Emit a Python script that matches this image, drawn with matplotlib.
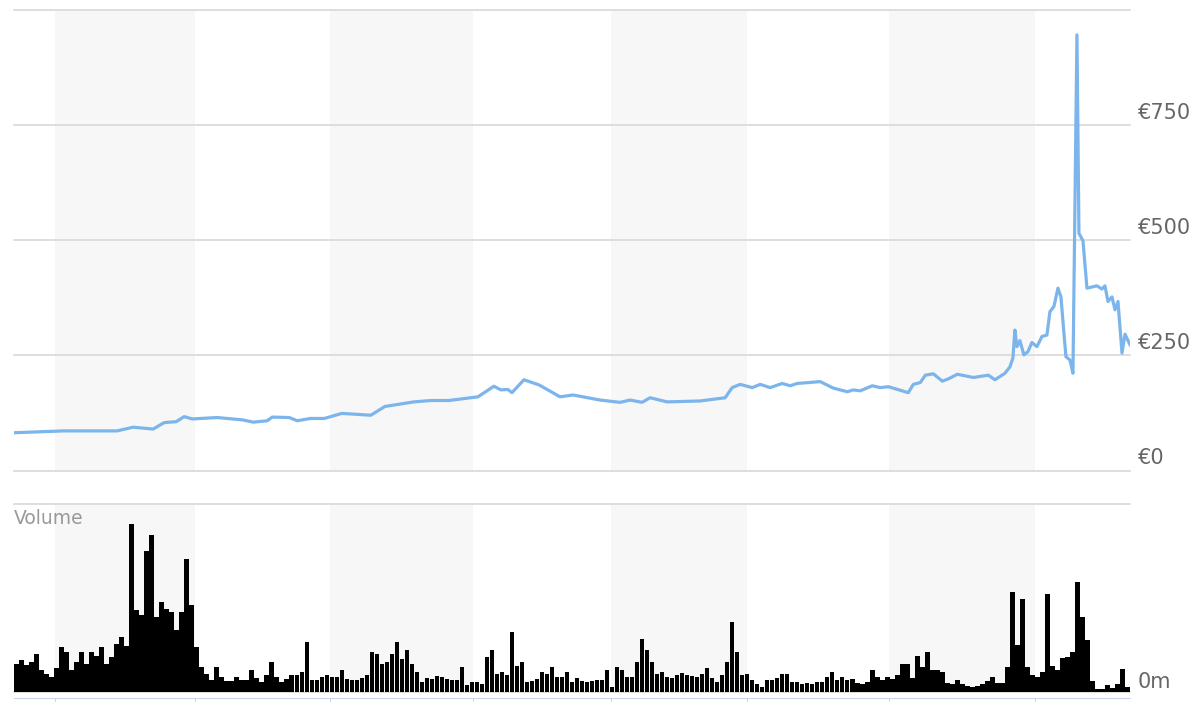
import numpy as np
import matplotlib.pyplot as plt
from matplotlib.transforms import offset_copy

# volume per bar (bar index = time), arbitrary units
volume = [28, 32, 27, 30, 38, 22, 18, 15, 24, 45, 40, 22, 30, 40, 28, 40, 36, 45, 28, 35,
          48, 55, 46, 168, 82, 77, 141, 157, 75, 90, 83, 80, 62, 80, 133, 87, 45, 25, 18, 12,
          25, 15, 11, 11, 15, 12, 12, 22, 14, 10, 17, 30, 15, 10, 13, 17, 17, 20, 50, 12,
          12, 15, 17, 15, 15, 22, 13, 12, 12, 14, 17, 40, 38, 28, 30, 38, 50, 33, 42, 28,
          20, 10, 14, 13, 16, 15, 13, 12, 12, 25, 7, 10, 10, 8, 35, 42, 18, 20, 17, 60,
          26, 30, 10, 11, 13, 20, 18, 25, 15, 15, 20, 10, 14, 11, 10, 11, 12, 12, 22, 5,
          25, 22, 15, 15, 30, 53, 42, 30, 18, 20, 15, 14, 17, 19, 17, 16, 15, 18, 24, 14,
          10, 17, 30, 70, 40, 17, 18, 12, 8, 5, 12, 12, 14, 18, 18, 10, 10, 8, 9, 8,
          10, 10, 15, 20, 12, 15, 12, 13, 9, 8, 10, 22, 15, 12, 15, 13, 17, 28, 28, 14,
          36, 25, 40, 22, 22, 20, 9, 8, 12, 8, 6, 5, 6, 8, 11, 15, 9, 9, 25, 100,
          47, 93, 25, 17, 15, 20, 98, 26, 22, 34, 35, 40, 110, 75, 52, 11, 3, 3, 7, 4,
          8, 23, 5]

# price points: time (in bar units) and closing price in EUR
price_t = [-0.5, 9.5, 20.1, 23.3, 27.3, 29.5, 31.9, 33.5, 35.1, 40.1, 45.1, 47.3, 50.1, 51.1,
           54.5, 56.1, 58.7, 61.5, 65.0, 70.8, 73.6, 79.4, 82.8, 86.4, 92.2, 93.6, 95.4, 96.8,
           98.2, 99.0, 101.4, 104.4, 108.6, 111.2, 116.6, 120.6, 122.6, 125.0, 126.6, 130.0,
           136.6, 141.6, 143.0, 144.6, 147.0, 148.6, 150.6, 153.0, 154.6, 156.0, 160.6, 163.2,
           166.0, 167.2, 168.6, 171.0, 172.6, 174.2, 178.2, 179.2, 180.6, 181.6, 183.2, 185.0,
           186.2, 188.0, 191.2, 194.2, 195.5, 197.5, 198.5, 199.1, 199.5, 199.9, 200.5, 201.3,
           202.1, 202.9, 203.9, 204.9, 205.9, 206.5, 207.3, 208.1, 208.7, 209.3, 209.7, 210.5,
           211.1, 211.9, 212.3, 213.1, 213.9, 215.9, 216.9, 217.5, 218.1, 218.9, 219.5, 220.1,
           220.9, 221.5, 222.5]
price = [82, 86, 86, 94, 90, 104, 106, 117, 112, 115, 110, 105, 108, 116,
         115, 108, 113, 113, 124, 120, 139, 149, 152, 152, 160, 170, 183, 175,
         176, 169, 197, 186, 160, 164, 153, 148, 153, 148, 158, 149,
         151, 158, 180, 187, 180, 187, 180, 189, 184, 189, 193, 179,
         171, 175, 173, 184, 180, 182, 169, 187, 191, 207, 210, 194,
         199, 209, 202, 207, 197, 211, 225, 244, 305, 269, 282, 251,
         258, 278, 269, 291, 294, 345, 356, 396, 377, 298, 247, 240,
         211, 946, 515, 499, 396, 401, 394, 401, 367, 377, 349, 367,
         255, 296, 273]

# quarter boundaries (bar units)
quarter_t = [7.7, 35.7, 62.7, 91.2, 118.8, 146.0, 174.4, 203.5]

price_ticks = [0, 250, 500, 750, 1000]
price_labels = ['€0', '€250', '€500', '€750']
vol_top = 187.5

grid_color = '#d8d8d8'
band_color = '#f7f7f7'
label_color = '#666666'

fig = plt.figure(figsize=(12.04, 7.02), dpi=100)
ax = fig.add_axes([14 / 1204, 1 - 470.5 / 702, 1116 / 1204, 460.5 / 702])
axv = fig.add_axes([14 / 1204, 1 - 691.5 / 702, 1116 / 1204, 187.5 / 702])

for a in (ax, axv):
    a.set_xlim(-0.5, len(volume) - 0.5)
    for s in a.spines.values():
        s.set_visible(False)
    a.set_axisbelow(True)
    a.yaxis.grid(True, color=grid_color, lw=1.2)
    a.tick_params(left=False, labelleft=False, bottom=False, labelbottom=False)
    for i in range(0, len(quarter_t), 2):
        a.axvspan(quarter_t[i], quarter_t[i + 1], color=band_color, lw=0, zorder=0)

# price panel
ax.set_ylim(0, 1000)
ax.set_yticks(price_ticks)
ax.plot(price_t, price, color='#7cb5ec', lw=2.3, solid_joinstyle='round', zorder=3)
lab_tr = offset_copy(ax.get_yaxis_transform(), fig=fig, x=8, y=12, units='dots')
for v, lab in zip(price_ticks, price_labels):
    ax.text(1, v, lab, transform=lab_tr, ha='left', va='center', fontsize=15, color=label_color)

# volume panel
axv.set_ylim(0, vol_top)
axv.set_yticks([0, vol_top])
axv.bar(np.arange(len(volume)), volume, width=0.9, color='black', lw=0, zorder=2)
axv.text(1, 0, '0m', transform=offset_copy(axv.get_yaxis_transform(), fig=fig, x=8, y=10, units='dots'),
         ha='left', va='center', fontsize=15, color=label_color)
axv.text(0, 1, 'Volume', transform=offset_copy(axv.transAxes, fig=fig, x=0, y=-15, units='dots'),
         ha='left', va='center', fontsize=13.5, color='#999999')

for a in (ax, axv):
    for line in a.get_ygridlines():
        line.set_clip_on(False)

axv.spines['bottom'].set_visible(True)
axv.spines['bottom'].set_color('#ccd6eb')
axv.spines['bottom'].set_position(('outward', 5))
axv.set_xticks(quarter_t)
axv.tick_params(axis='x', bottom=True, length=5, color='#ccd6eb', direction='out')

fig.savefig('out.png', dpi=100)
